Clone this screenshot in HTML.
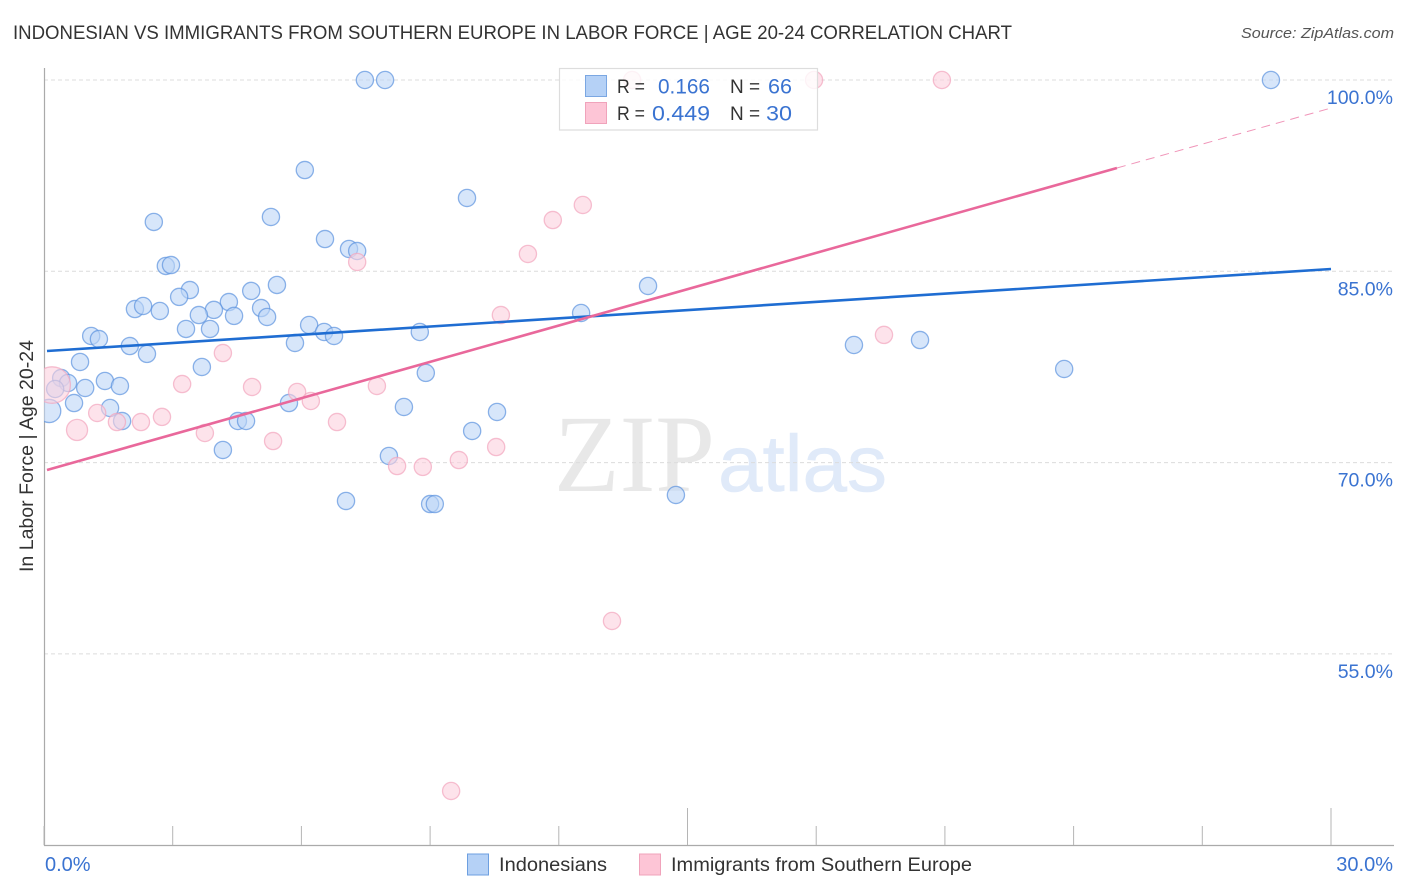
<!DOCTYPE html>
<html lang="en">
<head>
<meta charset="utf-8">
<title>Indonesian vs Immigrants from Southern Europe in Labor Force | Age 20-24 Correlation Chart</title>
<style>
html,body{margin:0;padding:0;background:#fff;}
svg{display:block;font-family:"Liberation Sans",sans-serif;}
</style>
</head>
<body>
<svg id="chart" width="1406" height="892" viewBox="0 0 1406 892" xmlns="http://www.w3.org/2000/svg">
  <defs>
    <clipPath id="plot-clip"><rect x="44" y="0" width="1362" height="846"></rect></clipPath>
  </defs>
  <rect x="0" y="0" width="1406" height="892" fill="#ffffff"></rect>
  <text x="13" y="39" font-size="19" fill="#333333" textLength="999" lengthAdjust="spacingAndGlyphs">INDONESIAN VS IMMIGRANTS FROM SOUTHERN EUROPE IN LABOR FORCE | AGE 20-24 CORRELATION CHART</text>
  <text x="1394" y="38" font-size="15" font-style="italic" fill="#555555" text-anchor="end" textLength="153" lengthAdjust="spacingAndGlyphs">Source: ZipAtlas.com</text>
  <g>
    <text x="554" y="491" font-family="'Liberation Serif',serif" font-size="110" fill="#e8e8e8" textLength="161" lengthAdjust="spacingAndGlyphs">ZIP</text>
    <text x="718" y="491" font-size="80" fill="#e0eaf9" stroke="#e0eaf9" stroke-width="0.6" textLength="169" lengthAdjust="spacingAndGlyphs">atlas</text>
  </g>
  <g id="grid"></g>
  <g id="axes"></g>
  <g id="marks" clip-path="url(#plot-clip)"></g>
  <g id="trends"></g>
  <g id="ticklabels"></g>
  <text transform="translate(33,456) rotate(-90)" font-size="19" fill="#333333" text-anchor="middle" textLength="232" lengthAdjust="spacingAndGlyphs">In Labor Force | Age 20-24</text>

  <g>
    <rect x="559.5" y="68.5" width="258" height="61.5" fill="#ffffff" fill-opacity="0.8" stroke="#dddddd" stroke-width="1.2"></rect>
    <rect x="585.5" y="75.5" width="21" height="21" fill="#b5d1f6" stroke="#7ba7e2" stroke-width="1"></rect>
    <rect x="585.5" y="102.5" width="21" height="21" fill="#fdc5d6" stroke="#f0a3bb" stroke-width="1"></rect>
    <text x="617" y="93" font-size="19" fill="#333333" textLength="28" lengthAdjust="spacingAndGlyphs">R =</text>
    <text x="658" y="93.5" font-size="21" fill="#3a73d1" textLength="52" lengthAdjust="spacingAndGlyphs">0.166</text>
    <text x="730" y="93" font-size="19" fill="#333333">N =</text>
    <text x="768" y="93.5" font-size="21" fill="#3a73d1" textLength="24" lengthAdjust="spacingAndGlyphs">66</text>
    <text x="617" y="120" font-size="19" fill="#333333" textLength="28" lengthAdjust="spacingAndGlyphs">R =</text>
    <text x="652" y="120.5" font-size="21" fill="#3a73d1" textLength="58" lengthAdjust="spacingAndGlyphs">0.449</text>
    <text x="730" y="120" font-size="19" fill="#333333">N =</text>
    <text x="766" y="120.5" font-size="21" fill="#3a73d1" textLength="26" lengthAdjust="spacingAndGlyphs">30</text>
  </g>

  <g>
    <rect x="467.5" y="854" width="21" height="21" fill="#b5d1f6" stroke="#6d9fe0" stroke-width="1"></rect>
    <text x="499" y="871" font-size="19" fill="#333333" textLength="108" lengthAdjust="spacingAndGlyphs">Indonesians</text>
    <rect x="639.5" y="854" width="21" height="21" fill="#fdc5d6" stroke="#f0a3bb" stroke-width="1"></rect>
    <text x="671" y="871" font-size="19" fill="#333333" textLength="301" lengthAdjust="spacingAndGlyphs">Immigrants from Southern Europe</text>
  </g>
</svg>
<script>
// ---- chart data (percent values) ----
const indoX = [7.48,7.95,28.60,6.08,9.86,5.29,2.56,6.55,7.11,7.30,2.84,2.96,14.08,5.43,3.40,4.83,3.15,4.31,2.12,2.31,2.70,3.96,5.06,3.61,4.43,5.20,12.52,3.31,3.87,6.18,6.53,6.76,8.76,1.10,1.28,2.00,5.85,2.40,18.88,20.42,0.84,3.68,23.78,8.90,0.40,0.56,0.26,0.96,1.42,1.77,0.70,1.54,5.71,8.39,10.56,0.12,1.82,4.52,4.71,9.98,4.17,8.04,7.04,9.00,9.11,14.73];
const indoY = [100,100,100,92.94,90.75,89.26,88.87,87.53,86.75,86.59,85.42,85.49,83.85,83.93,83.53,83.46,82.99,82.59,82.04,82.28,81.89,81.97,82.12,81.57,81.50,81.42,81.73,80.48,80.48,80.79,80.24,79.93,80.24,79.93,79.69,79.14,79.38,78.52,79.22,79.61,77.89,77.50,77.34,77.03,76.63,76.24,75.77,75.85,76.40,76.01,74.67,74.28,74.67,74.36,73.97,74.05,73.26,73.26,73.26,72.48,70.99,70.52,66.99,66.75,66.75,67.46];
const indoWeight = [1,1,1,1,1,1,1,1,1,1,1,1,1,1,1,1,1,1,1,1,1,1,1,1,1,1,1,1,1,1,1,1,1,1,1,1,1,1,1,1,1,1,1,1,1,1,1,1,1,1,1,1,1,1,1,1.83,1,1,1,1,1,1,1,1,1,1];
const immiX = [0.19,4.17,3.22,4.85,5.90,6.22,6.83,1.24,2.75,2.26,1.70,0.77,3.75,5.34,7.76,8.23,8.83,9.67,10.54,13.71,17.95,20.93,12.56,11.86,11.28,7.30,10.65,19.58,13.24,9.49];
const immiY = [76.08,78.59,76.16,75.93,75.54,74.83,73.18,73.89,73.58,73.18,73.18,72.56,72.32,71.69,76.01,69.73,69.66,70.20,71.22,100,100,100,90.20,89.02,86.36,85.73,81.57,80.01,57.58,44.25];
const immiWeight = [4.5,1,1,1,1,1,1,1,1,1,1,1.5,1,1,1,1,1,1,1,1,1,1,1,1,1,1,1,1,1,1];
const indoTrendX = [0.07,30];
const indoTrendY = [78.75,85.18];
const immiTrendX = [0.07,25.01];
const immiTrendY = [69.42,93.10];
const immiProjectionX = [25.01,30];
const immiProjectionY = [93.10,97.80];
const yTickValues = [100,85,70,55];
const yTickLabels = ["100.0%","85.0%","70.0%","55.0%"];
const xTickValues = [0,3,6,9,12,15,18,21,24,27,30];
const xMajorTickValues = [15,30];
const xEndValues = [0,30];
const xEndLabels = ["0.0%","30.0%"];

// ---- axis functions ----
const NS = 'http://www.w3.org/2000/svg';
function xScale(v){ return 44 + v * 42.9; }
function yScale(v){ return 80 + (100 - v) * 12.753; }
function rScale(w){ return 8.6 * Math.sqrt(w); }
function make(tag, attrs, parent){
  const el = document.createElementNS(NS, tag);
  for (const k in attrs) el.setAttribute(k, attrs[k]);
  parent.appendChild(el);
  return el;
}
const grid = document.getElementById('grid');
const axes = document.getElementById('axes');
const marks = document.getElementById('marks');
const trends = document.getElementById('trends');
const labels = document.getElementById('ticklabels');

yTickValues.forEach(function(v){
  const line = make('line', {x1:44, x2:1394, y1:yScale(v), y2:yScale(v), stroke:'#dcdcdc', 'stroke-width':1, 'stroke-dasharray':'4 3'}, grid);
  
  
});

const yAxis = make('line', {x1:44.5, x2:44.5, y1:68, y2:846, stroke:'#aaaaaa', 'stroke-width':1.2}, axes);


const xAxis = make('line', {x1:44, x2:1394, y1:845.5, y2:845.5, stroke:'#aaaaaa', 'stroke-width':1.2}, axes);



xTickValues.forEach(function(v){
  const top = xMajorTickValues.indexOf(v) >= 0 ? 808 : 826;
  const tick = make('line', {x1:xScale(v), x2:xScale(v), y1:top, y2:845, stroke:'#b5b5b5', 'stroke-width':1}, axes);
  
  
});

function drawSeries(xs, ys, ws, fill, stroke, name){
  xs.forEach(function(x, i){
    const c = make('circle', {cx:xScale(x), cy:yScale(ys[i]), r:rScale(ws[i]), fill:fill, 'fill-opacity':0.6, stroke:stroke, 'stroke-opacity':0.7, 'stroke-width':1.3}, marks);
    
    
  });
}
drawSeries(indoX, indoY, indoWeight, '#bcd5f6', '#5c93de', 'indonesians');
drawSeries(immiX, immiY, immiWeight, '#fcd0dd', '#f2a5bd', 'immigrants');

function polyPoints(xs, ys){
  return xs.map(function(x, i){ return xScale(x) + ',' + yScale(ys[i]); }).join(' ');
}
const indoLine = make('polyline', {points:polyPoints(indoTrendX, indoTrendY), fill:'none', stroke:'#1f6dd2', 'stroke-width':2.6}, trends);


const immiLine = make('polyline', {points:polyPoints(immiTrendX, immiTrendY), fill:'none', stroke:'#e9689b', 'stroke-width':2.6}, trends);


const immiDash = make('polyline', {points:polyPoints(immiProjectionX, immiProjectionY), fill:'none', stroke:'#e9689b', 'stroke-opacity':0.7, 'stroke-width':1, 'stroke-dasharray':'9 6'}, trends);



yTickValues.forEach(function(v, i){
  const t = make('text', {x:1393, y:yScale(v) + 24, 'font-size':19.5, fill:'#3a73d1', 'text-anchor':'end'}, labels);
  t.textContent = yTickLabels[i];
  
  
});
xEndValues.forEach(function(v, i){
  const t = make('text', {x:i === 0 ? xScale(v) + 1 : 1393, y:871, 'font-size':20, fill:'#3a73d1', 'text-anchor':i === 0 ? 'start' : 'end'}, labels);
  t.textContent = xEndLabels[i];
  
  
});
</script>
</body>
</html>
